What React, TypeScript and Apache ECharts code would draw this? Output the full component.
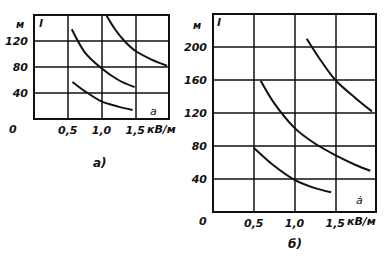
import React, { useEffect, useRef } from "react";
import * as echarts from "echarts";

const xTickLabels: Record<string, string> = { "0.5": "0,5", "1": "1,0", "1.5": "1,5" };
const yLabelsA = [40, 80, 120];
const yLabelsB = [40, 80, 120, 160, 200];

// Chart а)
const curveA1: [number, number][] = [[0.57, 57], [0.75, 43], [1.0, 27], [1.25, 19], [1.46, 14]];
const curveA2: [number, number][] = [[0.56, 138], [0.75, 103], [1.0, 78], [1.25, 60], [1.49, 49]];
const curveA3: [number, number][] = [[1.07, 160], [1.2, 138], [1.34, 120], [1.5, 105], [1.75, 91], [1.97, 82]];
// Chart б)
const curveB1: [number, number][] = [[0.5, 78], [0.75, 56], [1.0, 39], [1.25, 29], [1.45, 24]];
const curveB2: [number, number][] = [[0.585, 159], [0.75, 132], [1.0, 102], [1.25, 83], [1.5, 69], [1.75, 57], [1.93, 50]];
const curveB3: [number, number][] = [[1.15, 210], [1.3, 187], [1.5, 160], [1.75, 138], [1.95, 122]];

const FONT = "DejaVu Sans";
const txt = { fontFamily: FONT, fontStyle: "italic" as const, fontWeight: "bold" as const, fontSize: 11, fill: "#111" };

export default function App() {
  const ref = useRef<HTMLDivElement>(null);
  useEffect(() => {
    document.body.style.margin = "0";
    const chart = echarts.init(ref.current!, null, { renderer: "svg" });
    const labelStyle = { fontFamily: FONT, fontStyle: "italic", fontWeight: "bold", fontSize: 11, color: "#111" };
    const xAxisBase = (gridIndex: number) => ({
      type: "value" as const,
      gridIndex,
      min: 0,
      max: 2,
      interval: 0.5,
      axisLine: { show: false },
      axisTick: { show: false },
      splitLine: { show: true, lineStyle: { color: "#111", width: 1.5 } },
      axisLabel: {
        ...labelStyle,
        margin: 6,
        showMinLabel: false,
        showMaxLabel: false,
        formatter: (v: number) => xTickLabels[String(v)] ?? "",
      },
    });
    const yAxisBase = (gridIndex: number, max: number, labels: number[]) => ({
      type: "value" as const,
      gridIndex,
      min: 0,
      max,
      interval: 40,
      axisLine: { show: false },
      axisTick: { show: false },
      splitLine: { show: true, lineStyle: { color: "#111", width: 1.5 } },
      axisLabel: {
        ...labelStyle,
        margin: 6,
        formatter: (v: number) => (labels.includes(v) ? String(v) : ""),
      },
    });
    const line = (data: [number, number][], idx: number) => ({
      type: "line" as const,
      xAxisIndex: idx,
      yAxisIndex: idx,
      data,
      smooth: 0.3,
      showSymbol: false,
      lineStyle: { color: "#111", width: 2 },
    });
    chart.setOption({
      animation: false,
      backgroundColor: "#fff",
      grid: [
        { left: 34, top: 15, width: 135, height: 104, show: true, borderColor: "#111", borderWidth: 2, backgroundColor: "transparent" },
        { left: 213, top: 14, width: 163, height: 198, show: true, borderColor: "#111", borderWidth: 2, backgroundColor: "transparent" },
      ],
      xAxis: [xAxisBase(0), xAxisBase(1)],
      yAxis: [yAxisBase(0, 160, yLabelsA), yAxisBase(1, 240, yLabelsB)],
      series: [
        line(curveA1, 0), line(curveA2, 0), line(curveA3, 0),
        line(curveB1, 1), line(curveB2, 1), line(curveB3, 1),
      ],
      graphic: [
        { type: "text", left: 16, top: 19, style: { ...txt, text: "м", fontSize: 10 } },
        { type: "text", left: 39, top: 18, style: { ...txt, text: "l" } },
        { type: "text", left: 150, top: 106, style: { ...txt, text: "a", fontWeight: "normal" } },
        { type: "text", left: 9, top: 124, style: { ...txt, text: "0" } },
        { type: "text", left: 147, top: 124, style: { ...txt, text: "кВ/м" } },
        { type: "text", left: 93, top: 157, style: { ...txt, text: "а)", fontSize: 12 } },
        { type: "text", left: 193, top: 20, style: { ...txt, text: "м", fontSize: 10 } },
        { type: "text", left: 217, top: 17, style: { ...txt, text: "l" } },
        { type: "text", left: 356, top: 195, style: { ...txt, text: "а̇", fontWeight: "normal" } },
        { type: "text", left: 199, top: 216, style: { ...txt, text: "0" } },
        { type: "text", left: 347, top: 216, style: { ...txt, text: "кВ/м" } },
        { type: "text", left: 288, top: 238, style: { ...txt, text: "б)", fontSize: 12 } },
      ],
    });
    return () => chart.dispose();
  }, []);
  return <div ref={ref} style={{ position: "fixed", left: 0, top: 0, width: 389, height: 264 }} />;
}
